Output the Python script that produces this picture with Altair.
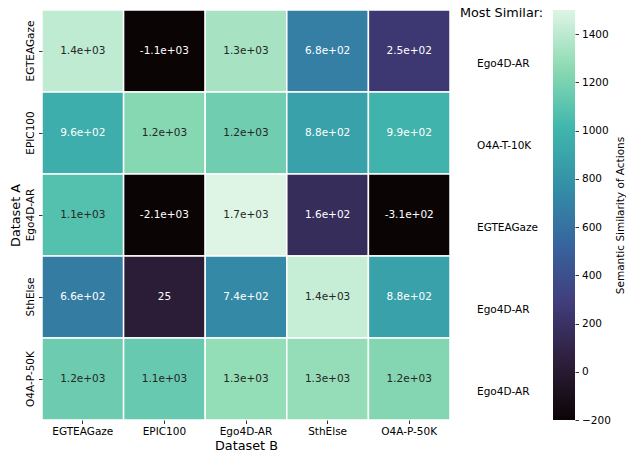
import altair as alt
import pandas as pd

rows = ["EGTEAGaze", "EPIC100", "Ego4D-AR", "SthElse", "O4A-P-50K"]
cols = ["EGTEAGaze", "EPIC100", "Ego4D-AR", "SthElse", "O4A-P-50K"]
vals_egtea = [1410, -1100, 1340, 680, 250]
vals_epic = [960, 1240, 1170, 880, 990]
vals_ego4d = [1080, -2100, 1700, 160, -310]
vals_sthelse = [660, 25, 740, 1430, 880]
vals_o4a = [1160, 1140, 1280, 1285, 1230]
most_similar = ["Ego4D-AR", "O4A-T-10K", "EGTEAGaze", "Ego4D-AR", "Ego4D-AR"]

cb_ticks = [-200, 0, 200, 400, 600, 800, 1000, 1200, 1400]
vmin, vmax = -200, 1500

mako_stops = ["#0b0405", "#2e1e3b", "#413d7b", "#37659e", "#348fa7", "#40b7ad", "#8bdab2", "#def5e5"]

all_vals = [vals_egtea, vals_epic, vals_ego4d, vals_sthelse, vals_o4a]
recs = []
for r, rv in zip(rows, all_vals):
    for c, v in zip(cols, rv):
        recs.append({"A": r, "B": c, "v": v, "lab": format(v, ".2g")})
df = pd.DataFrame(recs)

color_scale = alt.Scale(domain=[vmin, vmax], range=mako_stops, interpolate="rgb", clamp=True)

FONT = "DejaVu Sans"
W, H = 408, 410
FS = 10.5

base = alt.Chart(df).encode(
    x=alt.X("B:N", sort=cols, scale=alt.Scale(paddingInner=0, paddingOuter=0),
            axis=alt.Axis(title="Dataset B", labelAngle=0, labelPadding=3, titlePadding=2)),
    y=alt.Y("A:N", sort=rows, scale=alt.Scale(paddingInner=0, paddingOuter=0),
            axis=alt.Axis(title="Dataset A", labelAngle=270, labelAlign="center",
                          labelBaseline="bottom", labelPadding=3, titlePadding=3)),
)
rects = base.mark_rect(stroke="white", strokeWidth=1.5).encode(
    color=alt.Color("v:Q", scale=color_scale, legend=None)
)
texts = base.mark_text(fontSize=FS, font=FONT).encode(
    text="lab:N",
    color=alt.condition(alt.datum.v >= 1050, alt.value("#262626"), alt.value("white")),
)
heat = alt.layer(rects, texts).properties(width=W, height=H)

ms_df = pd.DataFrame({"A": rows, "best": most_similar})
ms_labels = alt.Chart(ms_df).mark_text(align="left", fontSize=FS, font=FONT, dy=13, color="black").encode(
    y=alt.Y("A:N", sort=rows, axis=None, scale=alt.Scale(paddingInner=0, paddingOuter=0)),
    x=alt.value(26),
    text="best:N",
)
ms_title = alt.Chart(pd.DataFrame({"t": ["Most Similar:"]})).mark_text(
    align="left", baseline="middle", fontSize=12.8, font=FONT, color="black"
).encode(x=alt.value(9), y=alt.value(3), text="t:N")
ms = alt.layer(ms_labels, ms_title).properties(width=102, height=H)

grad = alt.Gradient(
    gradient="linear",
    stops=[alt.GradientStop(color=c, offset=i / (len(mako_stops) - 1)) for i, c in enumerate(mako_stops)],
    x1=0, x2=0, y1=1, y2=0,
)
cb_df = pd.DataFrame({"lo": [vmin], "hi": [vmax]})
cbar = alt.Chart(cb_df).mark_rect(color=grad).encode(
    y=alt.Y("lo:Q", scale=alt.Scale(domain=[vmin, vmax], nice=False, zero=False),
            axis=alt.Axis(orient="right", values=cb_ticks, format="d", title="Semantic Similarity of Actions",
                          titleAngle=270, titleBaseline="top", titleFontSize=FS, titlePadding=5,
                          labelPadding=3, grid=False)),
    y2="hi:Q",
).properties(width=22, height=H)

chart = alt.hconcat(heat, ms, cbar, spacing=0).properties(
    padding={"left": 9, "top": 7, "right": 0, "bottom": 5}
).configure_view(stroke=None).configure_axis(
    labelFont=FONT, titleFont=FONT, labelFontSize=FS, titleFontSize=12.8,
    labelColor="black", titleColor="black", tickColor="black", tickSize=3.5,
    tickWidth=0.8, domain=False, grid=False, titleFontWeight="normal"
).configure_text(font=FONT)

chart.save("out.html", embed_options={"renderer": "svg", "actions": False})
